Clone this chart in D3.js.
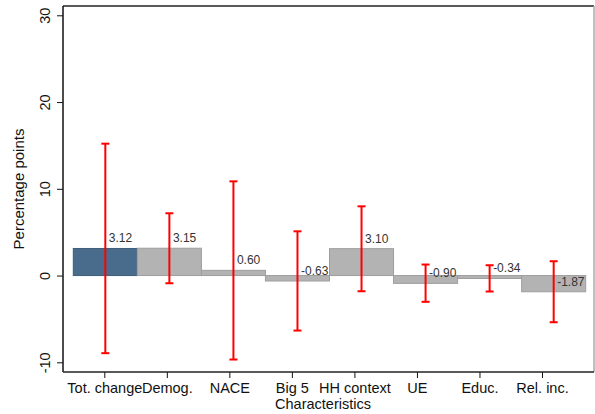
<!DOCTYPE html>
<html>
<head>
<meta charset="utf-8">
<script src="https://cdn.jsdelivr.net/npm/d3@7"></script>
<style>
  html, body { margin: 0; padding: 0; background: #fff; }
  svg { display: block; font-family: "Liberation Sans", Arial, Helvetica, sans-serif; }
</style>
</head>
<body>
<svg id="chart" width="595" height="414"></svg>
<script>
const categories = ["Tot. change", "Demog.", "NACE", "Big 5", "HH context", "UE", "Educ.", "Rel. inc."];
const values = [3.12, 3.15, 0.60, -0.63, 3.10, -0.90, -0.34, -1.87];
const ciHigh = [15.2, 7.18, 10.86, 5.10, 7.98, 1.27, 1.19, 1.65];
const ciLow = [-8.95, -0.89, -9.68, -6.34, -1.81, -3.03, -1.84, -5.38];
const yTicks = [-10, 0, 10, 20, 30];

const svg = d3.select("#chart");
const plot = { left: 63, right: 594, top: 6, bottom: 372 };

const y = d3.scaleLinear().domain([-10, 30]).range([362.3, 15.3]);
const xBar = d3.scaleBand().domain(categories).range([73.3, 585.7]).paddingInner(0).paddingOuter(0);
const xTick = d3.scalePoint().domain(categories).range([104.3, 542]);

const fmt2 = v => d3.format(".2f")(v).replace("\u2212", "-");

// frame
svg.append("line").attr("x1", plot.left).attr("x2", plot.right).attr("y1", plot.top).attr("y2", plot.top)
  .attr("stroke", "#222").attr("stroke-width", 1.5);
svg.append("line").attr("x1", plot.right).attr("x2", plot.right).attr("y1", plot.top).attr("y2", plot.bottom)
  .attr("stroke", "#aaa").attr("stroke-width", 1.5);

const data = categories.map((c, i) => ({ c, v: values[i], hi: ciHigh[i], lo: ciLow[i], i }));

// bars
svg.append("g").selectAll("rect").data(data).join("rect")
  .attr("x", d => xBar(d.c))
  .attr("width", xBar.bandwidth())
  .attr("y", d => Math.min(y(d.v), y(0)))
  .attr("height", d => Math.abs(y(d.v) - y(0)))
  .attr("fill", d => d.i === 0 ? "#4a6c8c" : "#b3b3b3")
  .attr("stroke", d => d.i === 0 ? "#3f5d7a" : "#9e9e9e")
  .attr("stroke-width", 1);

// error bars
const eb = svg.append("g").attr("stroke", "#ff0000").attr("stroke-width", 2).attr("fill", "none");
data.forEach(d => {
  const cx = xBar(d.c) + xBar.bandwidth() / 2;
  eb.append("line").attr("x1", cx).attr("x2", cx).attr("y1", y(d.hi)).attr("y2", y(d.lo));
  eb.append("line").attr("x1", cx - 4).attr("x2", cx + 4).attr("y1", y(d.hi)).attr("y2", y(d.hi));
  eb.append("line").attr("x1", cx - 4).attr("x2", cx + 4).attr("y1", y(d.lo)).attr("y2", y(d.lo));
});

// value labels
svg.append("g").selectAll("text").data(data).join("text")
  .attr("x", d => xBar(d.c) + xBar.bandwidth() / 2 + 3.5)
  .attr("y", d => y(d.v) - 6)
  .attr("font-size", 12)
  .attr("fill", "#333")
  .text(d => fmt2(d.v));

// y axis
const yAxis = svg.append("g").attr("transform", `translate(${plot.left},0)`)
  .call(d3.axisLeft(y).tickValues(yTicks).tickSize(6).tickFormat(d => String(d)));
yAxis.select(".domain").remove();
yAxis.append("line").attr("x1", 0).attr("x2", 0).attr("y1", plot.top).attr("y2", plot.bottom)
  .attr("stroke", "#111").attr("stroke-width", 1.5);
yAxis.selectAll(".tick line").attr("stroke", "#111");
yAxis.selectAll(".tick text")
  .attr("font-size", 14.5).attr("fill", "#111")
  .attr("font-family", "'Liberation Sans', Arial, sans-serif")
  .attr("transform", "rotate(-90)")
  .attr("x", 0).attr("y", -13).attr("dy", 0)
  .attr("text-anchor", "middle");

// x axis
const xAxis = svg.append("g").attr("transform", `translate(0,${plot.bottom})`)
  .call(d3.axisBottom(xTick).tickSize(6).tickPadding(0));
xAxis.select(".domain").remove();
xAxis.append("line").attr("x1", plot.left).attr("x2", plot.right).attr("y1", 0).attr("y2", 0)
  .attr("stroke", "#222").attr("stroke-width", 1.5);
xAxis.selectAll(".tick line").attr("stroke", "#111");
xAxis.selectAll(".tick text")
  .attr("font-size", 14.5).attr("fill", "#111")
  .attr("font-family", "'Liberation Sans', Arial, sans-serif")
  .attr("y", 20.5).attr("dy", 0);

// axis titles
svg.append("text")
  .attr("transform", `translate(24,${(plot.top + plot.bottom) / 2}) rotate(-90)`)
  .attr("text-anchor", "middle").attr("font-size", 15).attr("fill", "#111")
  .text("Percentage points");
svg.append("text")
  .attr("x", 323).attr("y", 409)
  .attr("text-anchor", "middle").attr("font-size", 14.5).attr("fill", "#111")
  .text("Characteristics");
</script>
</body>
</html>
